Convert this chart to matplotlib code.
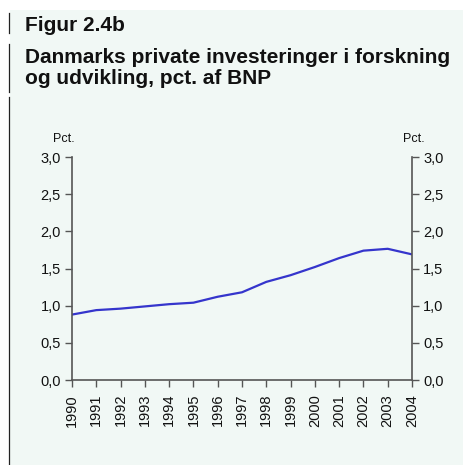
import matplotlib
matplotlib.use("Agg")
import matplotlib.pyplot as plt
from matplotlib.lines import Line2D
from matplotlib.patches import Rectangle

plt.rcParams['font.family'] = ['Liberation Sans', 'DejaVu Sans']

# data
years = list(range(1990, 2005))
pct = [0.88, 0.94, 0.96, 0.99, 1.02, 1.04, 1.12, 1.18, 1.32, 1.41,
       1.52, 1.64, 1.74, 1.765, 1.69]
y_ticks = [0.0, 0.5, 1.0, 1.5, 2.0, 2.5, 3.0]
y_labels = ['0,0', '0,5', '1,0', '1,5', '2,0', '2,5', '3,0']

W, H = 464, 465
bg = '#f1f8f5'

fig = plt.figure(figsize=(W / 100, H / 100), dpi=100)
fig.patch.set_facecolor('white')

def px(x, y):
    # pixel position (from top-left) to figure fraction
    return x / W, 1 - y / H

# mint panel
x0, y0 = px(10, 10)
fig.add_artist(Rectangle((x0, 0), 1 - x0, y0, transform=fig.transFigure,
                         facecolor=bg, edgecolor='none', zorder=0))

# left marker bars
for top, bot in [(13, 33), (44, 92), (97, 465)]:
    xa, ya = px(9.5, top)
    _, yb = px(9.5, bot)
    fig.add_artist(Line2D([xa, xa], [ya, yb], transform=fig.transFigure,
                          color='#222222', lw=0.9))

# titles
title_kw = dict(fontsize=15, fontweight='bold', color='#111111', va='baseline', ha='left')
fig.text(*px(25, 31), 'Figur 2.4b', **title_kw)
fig.text(*px(25, 63), 'Danmarks private investeringer i forskning', **title_kw)
fig.text(*px(25, 84), 'og udvikling, pct. af BNP', **title_kw)

# axes
left, right, top, bottom = 72, 412, 157, 380
ax = fig.add_axes([left / W, 1 - bottom / H, (right - left) / W, (bottom - top) / H])
ax.patch.set_alpha(0)

ax.plot(years, pct, color='#3535cc', lw=1.6)
ax.set_xlim(1990, 2004)
ax.set_ylim(0, 3.0)

ax.set_xticks(years)
ax.set_xticklabels([str(y) for y in years], rotation=90, fontsize=10.5)
ax.set_yticks(y_ticks)
ax.set_yticklabels(y_labels, fontsize=10.5)
ax.tick_params(axis='both', direction='out', length=5, width=1, color='#555555',
               labelcolor='#111111')
ax.tick_params(axis='x', pad=5)
ax.tick_params(axis='y', pad=3, left=True, right=True, labelleft=True, labelright=True)

for side in ['left', 'right', 'bottom']:
    ax.spines[side].set_color('#555555')
    ax.spines[side].set_linewidth(1.2)
ax.spines['top'].set_visible(False)

fig.text(*px(64, 142), 'Pct.', fontsize=9, ha='center', va='baseline', color='#111111')
fig.text(*px(414, 142), 'Pct.', fontsize=9, ha='center', va='baseline', color='#111111')

fig.savefig('out.png', dpi=100, facecolor=fig.get_facecolor())
